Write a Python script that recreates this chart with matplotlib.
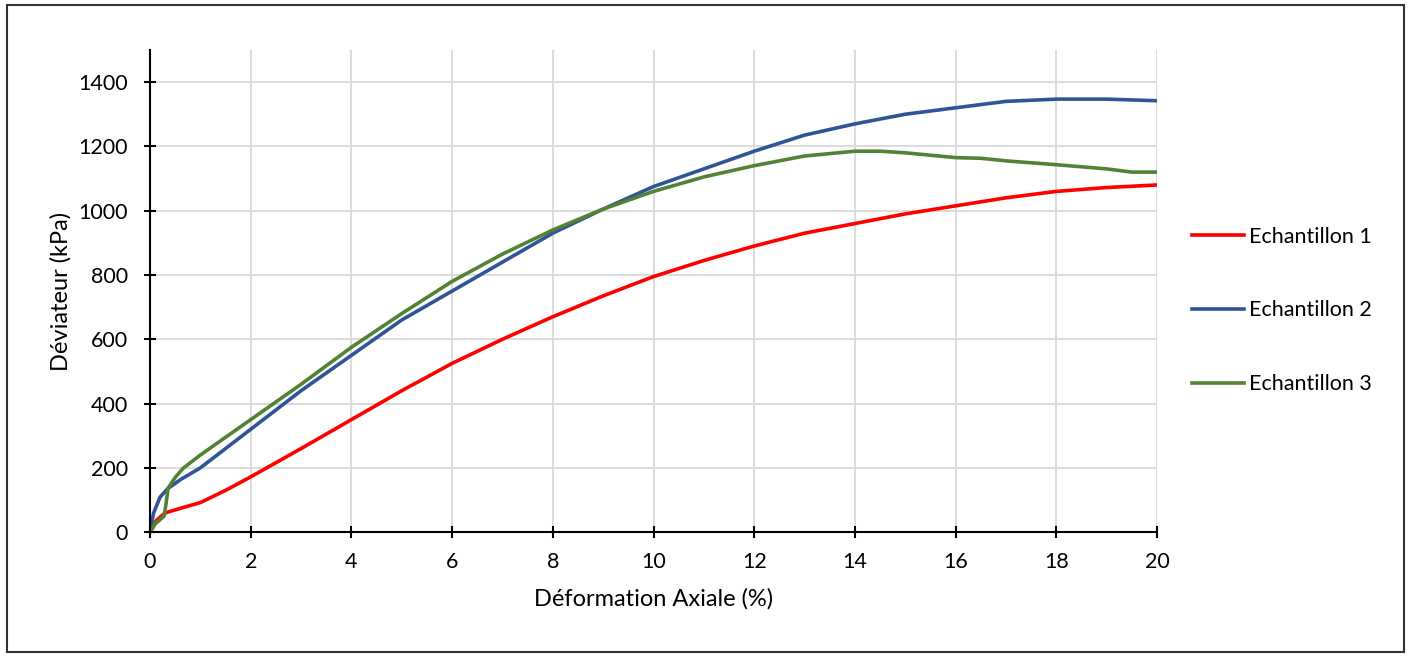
import matplotlib
matplotlib.use("Agg")
import matplotlib.pyplot as plt
from matplotlib.patches import Rectangle

plt.rcParams['font.family'] = ['Lato', 'DejaVu Sans']

# Echantillon 1
x1 = [0, 0.13, 0.3, 0.6, 1, 1.5, 2, 3, 4, 5, 6, 7, 8, 9, 10, 11, 12, 13, 14, 15, 16, 17, 18, 19, 20]
y1 = [0, 37, 60, 74, 92, 130, 172, 260, 350, 440, 525, 600, 670, 735, 795, 845, 890, 930, 960, 990, 1015, 1040, 1060, 1072, 1080]

# Echantillon 2
x2 = [0, 0.07, 0.2, 0.35, 0.6, 1, 2, 3, 4, 5, 6, 7, 8, 9, 10, 11, 12, 13, 14, 15, 16, 17, 18, 19, 20]
y2 = [0, 59, 109, 135, 163, 200, 320, 440, 550, 660, 750, 840, 930, 1005, 1075, 1130, 1185, 1235, 1270, 1300, 1320, 1340, 1347, 1347, 1342]

# Echantillon 3
x3 = [0, 0.1, 0.28, 0.32, 0.36, 0.5, 0.66, 1, 2, 3, 4, 5, 6, 7, 8, 9, 10, 11, 12, 13, 14, 14.5, 15, 16, 16.5, 17, 18, 19, 19.5, 20]
y3 = [0, 25, 50, 90, 137, 170, 199, 240, 350, 460, 575, 680, 780, 865, 940, 1005, 1060, 1105, 1140, 1170, 1185, 1185, 1180, 1165, 1163, 1155, 1143, 1130, 1120, 1120]

fig = plt.figure(figsize=(14.11, 6.57), dpi=100)
ax = fig.add_axes([0.1063, 0.190, 0.7137, 0.734])

ax.plot(x1, y1, color='#FF0000', lw=2.6, label='Echantillon 1')
ax.plot(x2, y2, color='#2F5597', lw=2.6, label='Echantillon 2')
ax.plot(x3, y3, color='#548235', lw=2.6, label='Echantillon 3')

ax.set_xlim(0, 20)
ax.set_ylim(0, 1500)
ax.set_xticks(range(0, 21, 2))
ax.set_yticks(range(0, 1401, 200))
ax.grid(True, color='#D9D9D9', lw=1.3)
ax.set_axisbelow(True)
for s in ['top', 'right']:
    ax.spines[s].set_visible(False)
for s in ['left', 'bottom']:
    ax.spines[s].set_linewidth(1.5)
ax.tick_params(direction='inout', length=8, width=1.5, labelsize=15.5)
ax.tick_params(axis='x', pad=10)
ax.tick_params(axis='y', pad=12)

ax.set_xlabel('Déformation Axiale (%)', fontsize=17, labelpad=12)
ax.set_ylabel('Déviateur (kPa)', fontsize=17, labelpad=5)

ax.legend(loc='center left', bbox_to_anchor=(1.035, 0.46), frameon=False,
          fontsize=15.5, labelspacing=2.5, handlelength=2.4, handletextpad=0.25,
          borderpad=0, borderaxespad=0)

fig.patches.append(Rectangle((0.005, 0.007), 0.99, 0.985, transform=fig.transFigure,
                             fill=False, edgecolor='#333333', lw=1.5))

fig.savefig('out.png', dpi=100)
